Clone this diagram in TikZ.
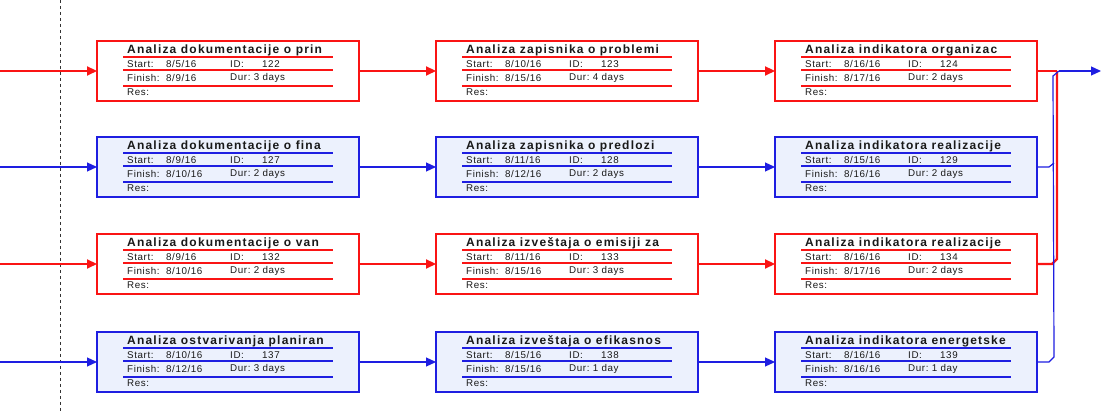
\documentclass[tikz,border=0pt]{standalone}
\usepackage{fontspec}
\setmainfont{Liberation Sans}
\newfontfamily\titlefont{Liberation Sans}[LetterSpace=10]
\newfontfamily\smallfont{Liberation Sans}[LetterSpace=6]
\usetikzlibrary{arrows.meta,calc}
\definecolor{pertred}{RGB}{250,20,20}
\definecolor{pertblue}{RGB}{30,30,225}
\definecolor{pertfill}{RGB}{236,241,253}
\tikzset{
  redbox/.style={draw=pertred,line width=2.4pt,fill=white,minimum width=262pt,minimum height=60pt,inner sep=0pt,outer sep=0pt},
  bluebox/.style={draw=pertblue,line width=1.4pt,fill=pertfill,minimum width=262pt,minimum height=60pt,inner sep=0pt,outer sep=0pt},
  redsep/.style={draw=pertred,line width=1.3pt},
  bluesep/.style={draw=pertblue,line width=1.3pt},
  tasktitle/.style={anchor=west,inner sep=0pt,font=\titlefont\bfseries\fontsize{12}{13}\selectfont,text=black!90},
  tasksmall/.style={anchor=west,inner sep=0pt,font=\smallfont\fontsize{9.8}{11}\selectfont,text=black!90},
  redarr/.style={draw=pertred,line width=2.2pt,-{Triangle[length=10pt,width=9pt]}},
  bluearr/.style={draw=pertblue,line width=1.2pt,-{Triangle[length=10pt,width=9pt]}},
  redline/.style={draw=pertred,line width=2.2pt},
  blueline/.style={draw=pertblue,line width=1.2pt},
}
\newcommand\taskbox[9]{%
  \node[#4box] (#1) at (#2+131,#3+30) {};
  \draw[#4sep] (#2+26,#3+16) -- (#2+236,#3+16);
  \draw[#4sep] (#2+26,#3+29) -- (#2+236,#3+29);
  \draw[#4sep] (#2+26,#3+45) -- (#2+236,#3+45);
  \node[tasktitle] (#1-t) at (#2+30,#3+9) {#5};
  \node[tasksmall] (#1-s) at (#2+30,#3+23) {Start:};
  \node[tasksmall] (#1-sd) at (#2+69,#3+23) {#6};
  \node[tasksmall] (#1-i) at (#2+133,#3+23) {ID:};
  \node[tasksmall] (#1-iv) at (#2+165,#3+23) {#7};
  \node[tasksmall] (#1-f) at (#2+30,#3+37) {Finish:};
  \node[tasksmall] (#1-fd) at (#2+69,#3+37) {#8};
  \node[tasksmall] (#1-d) at (#2+133,#3+37) {Dur:\ #9};
  \node[tasksmall] (#1-r) at (#2+30,#3+51.5) {Res:};
}
\begin{document}
\begin{tikzpicture}[x=1pt,y=-1pt]
\useasboundingbox[fill=white] (0,0) rectangle (1101,411);
% dashed time line
\coordinate (dtop) at (60,0);
\coordinate (dbot) at (60,411);
\draw[black!80,line width=0.8pt,dash pattern=on 3pt off 3pt] (dtop) -- (dbot);
% tasks
\taskbox{a1}{97}{41}{red}{Analiza dokumentacije o prin}{8/5/16}{122}{8/9/16}{3 days}
\taskbox{a2}{436}{41}{red}{Analiza zapisnika o problemi}{8/10/16}{123}{8/15/16}{4 days}
\taskbox{a3}{775}{41}{red}{Analiza indikatora organizac}{8/16/16}{124}{8/17/16}{2 days}
\taskbox{b1}{97}{137}{blue}{Analiza dokumentacije o fina}{8/9/16}{127}{8/10/16}{2 days}
\taskbox{b2}{436}{137}{blue}{Analiza zapisnika o predlozi}{8/11/16}{128}{8/12/16}{2 days}
\taskbox{b3}{775}{137}{blue}{Analiza indikatora realizacije}{8/15/16}{129}{8/16/16}{2 days}
\taskbox{c1}{97}{234}{red}{Analiza dokumentacije o van}{8/9/16}{132}{8/10/16}{2 days}
\taskbox{c2}{436}{234}{red}{Analiza izveštaja o emisiji za}{8/11/16}{133}{8/15/16}{3 days}
\taskbox{c3}{775}{234}{red}{Analiza indikatora realizacije}{8/16/16}{134}{8/17/16}{2 days}
\taskbox{d1}{97}{332}{blue}{Analiza ostvarivanja planiran}{8/10/16}{137}{8/12/16}{3 days}
\taskbox{d2}{436}{332}{blue}{Analiza izveštaja o efikasnos}{8/15/16}{138}{8/15/16}{1 day}
\taskbox{d3}{775}{332}{blue}{Analiza indikatora energetske}{8/16/16}{139}{8/16/16}{1 day}
% incoming connectors
\coordinate (ina) at (0,71);
\coordinate (inb) at (0,167);
\coordinate (inc) at (0,264);
\coordinate (ind) at (0,362);
\draw[redarr] (ina) -- (a1.west);
\draw[bluearr] (inb) -- (b1.west);
\draw[redarr] (inc) -- (c1.west);
\draw[bluearr] (ind) -- (d1.west);
% chains
\draw[redarr] (a1.east) -- (a2.west);
\draw[redarr] (a2.east) -- (a3.west);
\draw[bluearr] (b1.east) -- (b2.west);
\draw[bluearr] (b2.east) -- (b3.west);
\draw[redarr] (c1.east) -- (c2.west);
\draw[redarr] (c2.east) -- (c3.west);
\draw[bluearr] (d1.east) -- (d2.west);
\draw[bluearr] (d2.east) -- (d3.west);
% right bus
\coordinate (rj) at (1057,71);
\coordinate (bj) at (1059,71);
\coordinate (out) at (1101,71);
\draw[redline] (a3.east) -- (rj);
\draw[redline] (c3.east) -- ++(15,0) -- ++(5,-5) |- (rj);
\draw[blueline] (d3.east) -- ++(12,0) -- ++(5,-5) -- (1053,76) -- (bj);
\draw[blueline] (b3.east) -- ++(12,0) -- ++(5,-4);
\draw[bluearr] (bj) -- (out);
\end{tikzpicture}
\end{document}
